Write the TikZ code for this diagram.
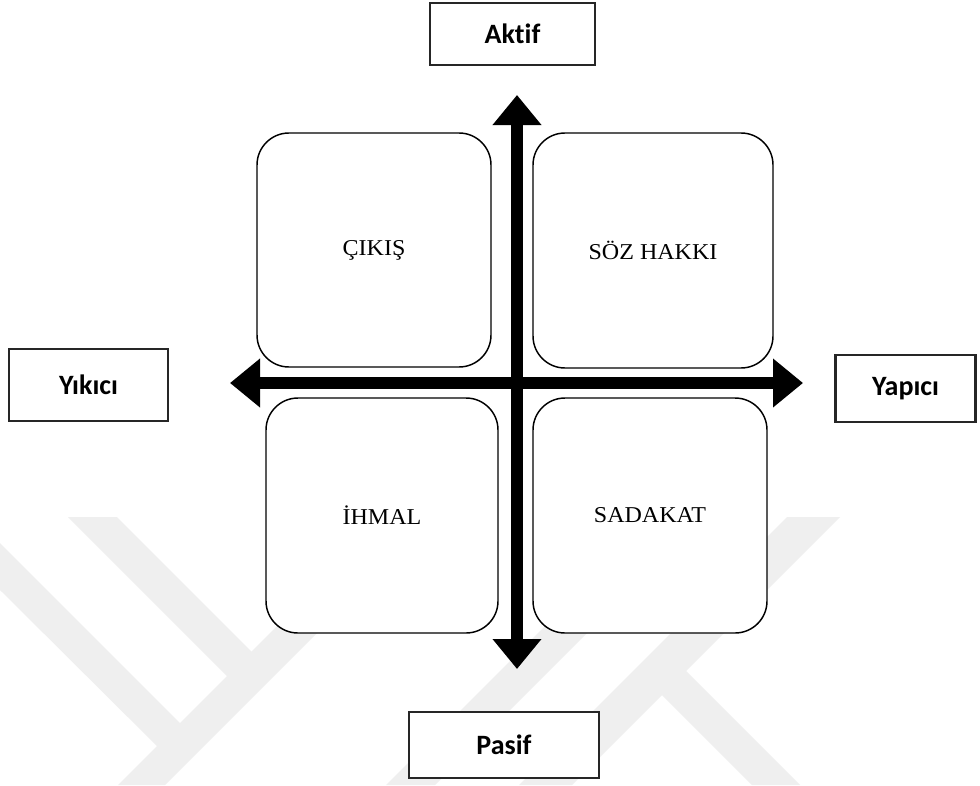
\documentclass[tikz,border=0pt]{standalone}
\usepackage{fontspec}
\usepackage{graphicx}
\setmainfont{Liberation Serif}
\newfontfamily\labelfont[Ligatures=NoCommon]{Carlito}
\usetikzlibrary{arrows.meta}
\def\qpx{0.75pt}
\definecolor{wm}{RGB}{239,239,239}
\newcommand\wide[1]{\scalebox{1.06}[1]{#1}}
\tikzset{
  quad/.style={draw=black, line width=1.1pt, fill=white, rounded corners=24pt,
    inner sep=0pt, font=\fontsize{17}{20}\selectfont},
  axislabel/.style={draw=black!85, line width=2pt, fill=white, inner sep=0pt,
    font=\labelfont\bfseries\fontsize{21}{25}\selectfont},
  axisline/.style={line width=9pt,
    {Triangle[length=22.5pt,width=35.25pt]}-{Triangle[length=22.5pt,width=35.25pt]}},
  wmark/.style={fill=wm, draw=none}
}
\begin{document}
\begin{tikzpicture}[x=0.75pt, y=-0.75pt]
\path[use as bounding box, fill=white] (0,0) rectangle (980,785);
% faint background watermark
\fill[wmark] (0,590) -- (0,543) -- (191,734) -- (168,757) -- cycle;
\fill[wmark] (68,517) -- (117,517) -- (262.5,662.5) -- (238,687) -- cycle;
\fill[wmark] (118,785) -- (165,785) -- (450,500) -- (403,500) -- cycle;
\fill[wmark] (787,517) -- (840,517) -- (572,785) -- (519,785) -- cycle;
\fill[wmark] (611,560) -- (660,560) -- (435,785) -- (386,785) -- cycle;
\fill[wmark] (648.5,681.5) -- (672.5,657.5) -- (800,785) -- (752,785) -- cycle;
% quadrant boxes
\node[quad, minimum width=234*\qpx, minimum height=234*\qpx] (cikis) at (374,250) {\wide{ÇIKIŞ}};
\node[quad, minimum width=240*\qpx, minimum height=235*\qpx] (soz) at (653,250.5) {\wide{SÖZ HAKKI}};
\node[quad, minimum width=232*\qpx, minimum height=235*\qpx] (ihmal) at (382,515.5) {\wide{İHMAL}};
\node[quad, minimum width=234*\qpx, minimum height=235*\qpx] (sadakat) at (650,515.5) {\wide{SADAKAT}};
% axis labels
\node[axislabel, minimum width=165*\qpx, minimum height=62*\qpx] (aktif) at (512.5,34) {Aktif};
\node[axislabel, minimum width=159*\qpx, minimum height=72*\qpx] (yikici) at (88.5,385) {Yıkıcı};
\node[axislabel, minimum width=140*\qpx, minimum height=67*\qpx] (yapici) at (905.5,388.5) {Yapıcı};
\node[axislabel, minimum width=190*\qpx, minimum height=66*\qpx] (pasif) at (504,745) {Pasif};
% axes
\coordinate (ntip) at (517,95);
\coordinate (stip) at (517,669);
\coordinate (wtip) at (230,383);
\coordinate (etip) at (803,383);
\draw[axisline] (stip) -- (ntip);
\draw[axisline] (wtip) -- (etip);
\end{tikzpicture}
\end{document}
